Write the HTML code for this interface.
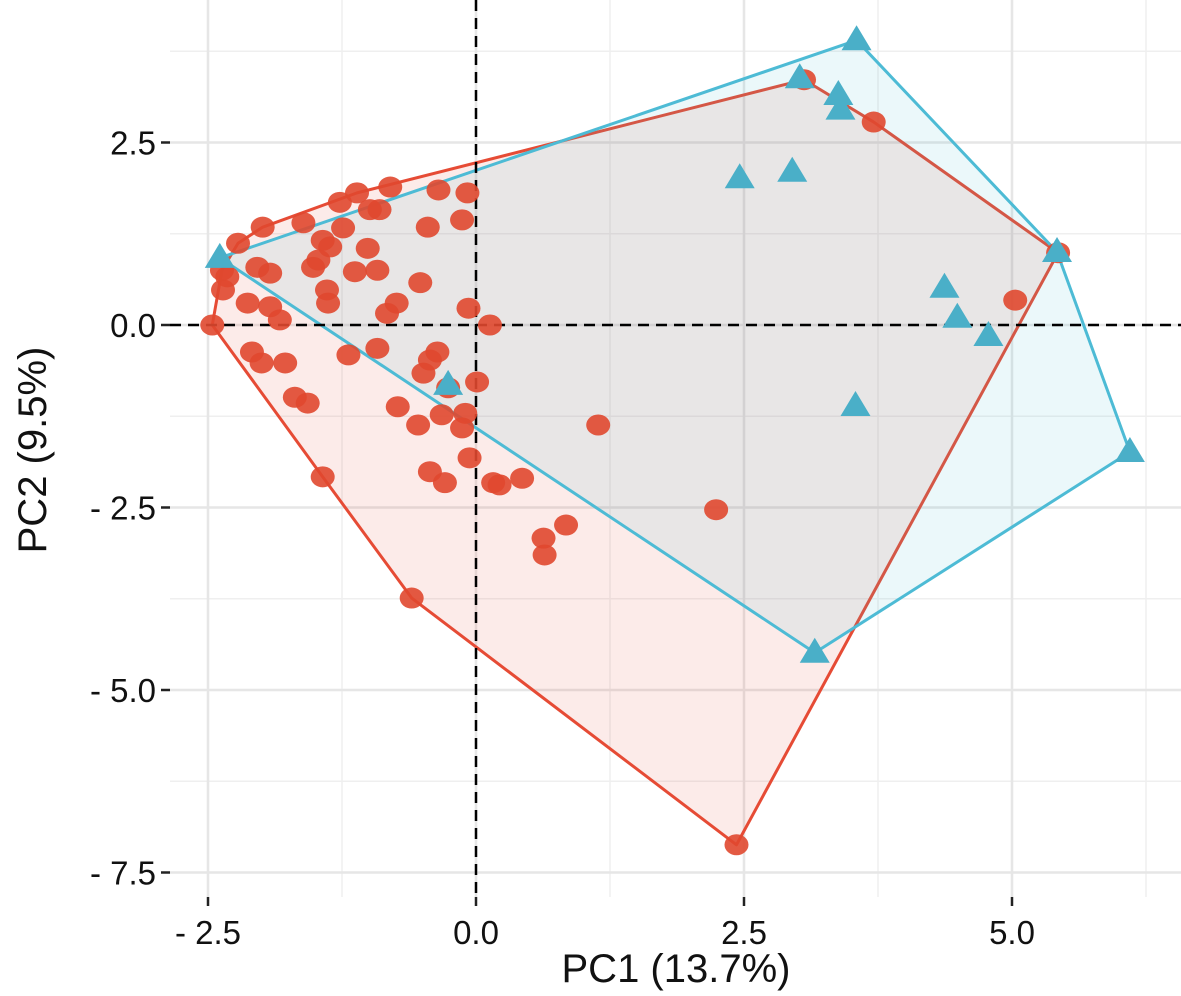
<!DOCTYPE html>
<html><head><meta charset="utf-8"><style>
html,body{margin:0;padding:0;background:#fff;}
svg text{font-family:"Liberation Sans",Arial,sans-serif;}
</style></head><body>
<svg id="chart" width="1181" height="991" viewBox="0 0 1181 991" xmlns="http://www.w3.org/2000/svg">
<g id="grid"></g>
<g id="hulls"></g>
<g id="refs"></g>
<g id="pts"></g>
<g id="axes"></g>
<text x="676" y="982" font-size="40" text-anchor="middle" fill="#111">PC1 (13.7%)</text>
<text transform="translate(46,450) rotate(-90)" font-size="40" text-anchor="middle" fill="#111">PC2 (9.5%)</text>
</svg>
<script>
const redX=[-0.80,-1.11,-1.27,-0.99,-0.90,-0.35,-0.08,-1.99,-1.61,-1.24,-0.45,-0.13,-2.22,-1.43,-1.36,-1.01,-1.52,-1.47,-1.13,-0.92,-2.04,-1.92,-2.32,-2.36,-1.39,-1.38,-0.52,-0.74,-0.83,-2.13,-1.92,-1.83,-0.07,0.13,-2.46,-2.09,-2.00,-1.78,-1.19,-0.92,-0.36,-0.43,-0.49,0.01,-0.26,-1.69,-1.57,-0.73,-0.54,-0.32,-0.10,-0.13,-0.06,-0.43,-0.29,0.16,-1.43,0.22,0.43,0.63,0.64,0.84,1.14,2.24,2.43,-0.60,3.06,3.71,5.43,5.03,-2.37];
const redY=[1.89,1.81,1.68,1.58,1.58,1.85,1.81,1.34,1.40,1.33,1.34,1.44,1.12,1.16,1.07,1.05,0.79,0.89,0.73,0.75,0.79,0.71,0.66,0.48,0.48,0.30,0.58,0.30,0.16,0.30,0.25,0.07,0.23,0.00,0.00,-0.37,-0.52,-0.52,-0.41,-0.32,-0.37,-0.48,-0.66,-0.78,-0.86,-0.99,-1.07,-1.12,-1.37,-1.23,-1.21,-1.41,-1.82,-2.01,-2.16,-2.16,-2.08,-2.19,-2.10,-2.92,-3.15,-2.74,-1.37,-2.53,-7.12,-3.74,3.36,2.78,0.99,0.34,0.75];
const blueX=[-2.39,3.55,3.02,3.38,3.40,2.46,2.95,5.42,4.37,4.49,4.78,3.54,6.10,3.16,-0.26];
const blueY=[0.92,3.90,3.38,3.15,2.95,2.01,2.10,1.00,0.51,0.10,-0.15,-1.11,-1.74,-4.49,-0.82];
const xTicks=[-2.5,0,2.5,5];
const xTickLabels=["- 2.5","0.0","2.5","5.0"];
const yTicks=[2.5,0,-2.5,-5,-7.5];
const yTickLabels=["2.5","0.0","- 2.5","- 5.0","- 7.5"];
const xMinor=[-1.25,1.25,3.75,6.25];
const yMinor=[3.75,1.25,-1.25,-3.75,-6.25];

const X=v=>476+v*107.2, Y=v=>325-v*73;
const L=170,R=1181,T=0,B=897;
const NS="http://www.w3.org/2000/svg";
function mk(tag,attrs,parent){const e=document.createElementNS(NS,tag);for(const k in attrs)e.setAttribute(k,attrs[k]);parent.appendChild(e);return e;}
const grid=document.getElementById('grid'),hulls=document.getElementById('hulls'),refs=document.getElementById('refs'),pts=document.getElementById('pts'),axes=document.getElementById('axes');
xMinor.forEach(v=>{const e=mk('line',{x1:X(v),x2:X(v),y1:T,y2:B,stroke:'#efefef','stroke-width':1.5},grid);

});
yMinor.forEach(v=>{const e=mk('line',{x1:L,x2:R,y1:Y(v),y2:Y(v),stroke:'#efefef','stroke-width':1.5},grid);

});
xTicks.forEach((v,i)=>{const e=mk('line',{x1:X(v),x2:X(v),y1:T,y2:B,stroke:'#e6e6e6','stroke-width':2.5},grid);


const tk=mk('line',{x1:X(v),x2:X(v),y1:B,y2:B+9,stroke:'#222','stroke-width':2.5},axes);


const t=mk('text',{x:X(v),y:B+47,'font-size':33,'text-anchor':'middle',fill:'#111'},axes);t.textContent=xTickLabels[i];

});
yTicks.forEach((v,i)=>{const e=mk('line',{x1:L,x2:R,y1:Y(v),y2:Y(v),stroke:'#e6e6e6','stroke-width':2.5},grid);


const tk=mk('line',{x1:L-9,x2:L,y1:Y(v),y2:Y(v),stroke:'#222','stroke-width':2.5},axes);


const t=mk('text',{x:L-14,y:Y(v)+12,'font-size':33,'text-anchor':'end',fill:'#111'},axes);t.textContent=yTickLabels[i];

});

function hull(xs,ys){const p=xs.map((x,i)=>[x,ys[i]]).sort((a,b)=>a[0]-b[0]||a[1]-b[1]);
const cr=(o,a,b)=>(a[0]-o[0])*(b[1]-o[1])-(a[1]-o[1])*(b[0]-o[0]);
const lo=[],up=[];for(const q of p){while(lo.length>=2&&cr(lo[lo.length-2],lo[lo.length-1],q)<=0)lo.pop();lo.push(q);}
for(let i=p.length-1;i>=0;i--){const q=p[i];while(up.length>=2&&cr(up[up.length-2],up[up.length-1],q)<=0)up.pop();up.push(q);}
lo.pop();up.pop();return lo.concat(up);}
function drawHull(xs,ys,col,name){const h=hull(xs,ys);
const e=mk('polygon',{points:h.map(p=>X(p[0])+','+Y(p[1])).join(' '),fill:col,'fill-opacity':0.11,stroke:col,'stroke-width':3,'stroke-linejoin':'round'},hulls);

}
drawHull(redX,redY,'#E64B35','group1-hull');
drawHull(blueX,blueY,'#4DBBD5','group2-hull');

const v0=mk('line',{x1:X(0),x2:X(0),y1:T,y2:B,stroke:'#000','stroke-width':2.5,'stroke-dasharray':'11 7'},refs);


const h0=mk('line',{x1:L,x2:R,y1:Y(0),y2:Y(0),stroke:'#000','stroke-width':2.5,'stroke-dasharray':'11 7'},refs);



redX.forEach((x,i)=>{const e=mk('ellipse',{cx:X(x),cy:Y(redY[i]),rx:12,ry:10.5,fill:'#E0482F','fill-opacity':0.9},pts);

});
blueX.forEach((x,i)=>{const cx=X(x),cy=Y(blueY[i]);
const e=mk('polygon',{points:`${cx},${cy-15} ${cx-15},${cy+10} ${cx+15},${cy+10}`,fill:'#4AAFC8'},pts);

});
</script>
</body></html>
